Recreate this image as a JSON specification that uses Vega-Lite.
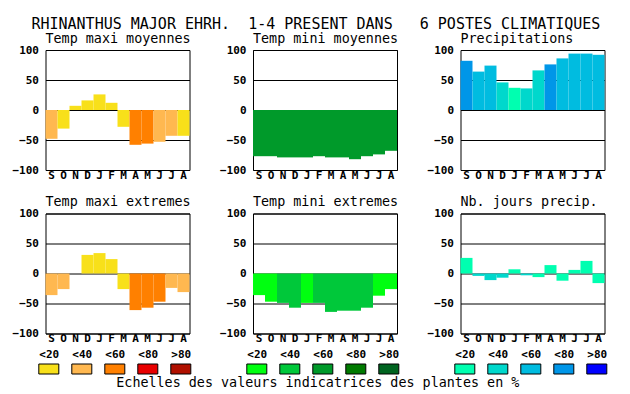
{
  "$schema": "https://vega.github.io/schema/vega-lite/v6.json",
  "padding": {"left": 11.5, "top": 17, "right": 2, "bottom": 2},
  "background": "white",
  "title": {"text": "RHINANTHUS MAJOR EHRH. \u00a01-4 PRESENT DANS \u00a0\u00a06 POSTES CLIMATIQUES", "font": "DejaVu Sans Mono", "fontSize": 15, "fontWeight": "normal", "color": "black", "anchor": "middle", "frame": "bounds", "offset": -1, "dx": 6.5},
  "datasets": {
    "bars": [
      {"p": "tmaxm", "i": 0, "v": -48, "c": "w2"}, {"p": "tmaxm", "i": 1, "v": -31, "c": "w1"}, {"p": "tmaxm", "i": 2, "v": 7, "c": "w1"}, {"p": "tmaxm", "i": 3, "v": 16, "c": "w1"}, {"p": "tmaxm", "i": 4, "v": 26, "c": "w1"}, {"p": "tmaxm", "i": 5, "v": 12, "c": "w1"}, {"p": "tmaxm", "i": 6, "v": -28, "c": "w1"}, {"p": "tmaxm", "i": 7, "v": -58, "c": "w3"}, {"p": "tmaxm", "i": 8, "v": -56, "c": "w3"}, {"p": "tmaxm", "i": 9, "v": -53, "c": "w2"}, {"p": "tmaxm", "i": 10, "v": -43, "c": "w2"}, {"p": "tmaxm", "i": 11, "v": -43, "c": "w1"},
      {"p": "tminm", "i": 0, "v": -77, "c": "g3"}, {"p": "tminm", "i": 1, "v": -77, "c": "g3"}, {"p": "tminm", "i": 2, "v": -79, "c": "g3"}, {"p": "tminm", "i": 3, "v": -79, "c": "g3"}, {"p": "tminm", "i": 4, "v": -79, "c": "g3"}, {"p": "tminm", "i": 5, "v": -77, "c": "g3"}, {"p": "tminm", "i": 6, "v": -79, "c": "g3"}, {"p": "tminm", "i": 7, "v": -79, "c": "g3"}, {"p": "tminm", "i": 8, "v": -82, "c": "g3"}, {"p": "tminm", "i": 9, "v": -77, "c": "g3"}, {"p": "tminm", "i": 10, "v": -74, "c": "g3"}, {"p": "tminm", "i": 11, "v": -68, "c": "g3"},
      {"p": "prec", "i": 0, "v": 82, "c": "b4"}, {"p": "prec", "i": 1, "v": 64, "c": "b3"}, {"p": "prec", "i": 2, "v": 74, "c": "b3"}, {"p": "prec", "i": 3, "v": 46, "c": "b2"}, {"p": "prec", "i": 4, "v": 37, "c": "b1"}, {"p": "prec", "i": 5, "v": 36, "c": "b2"}, {"p": "prec", "i": 6, "v": 66, "c": "b2"}, {"p": "prec", "i": 7, "v": 76, "c": "b4"}, {"p": "prec", "i": 8, "v": 86, "c": "b3"}, {"p": "prec", "i": 9, "v": 94, "c": "b3"}, {"p": "prec", "i": 10, "v": 94, "c": "b3"}, {"p": "prec", "i": 11, "v": 92, "c": "b3"},
      {"p": "tmaxe", "i": 0, "v": -36, "c": "w2"}, {"p": "tmaxe", "i": 1, "v": -26, "c": "w2"}, {"p": "tmaxe", "i": 2, "v": 0, "c": "w1"}, {"p": "tmaxe", "i": 3, "v": 31, "c": "w1"}, {"p": "tmaxe", "i": 4, "v": 34, "c": "w1"}, {"p": "tmaxe", "i": 5, "v": 24, "c": "w1"}, {"p": "tmaxe", "i": 6, "v": -26, "c": "w1"}, {"p": "tmaxe", "i": 7, "v": -61, "c": "w3"}, {"p": "tmaxe", "i": 8, "v": -57, "c": "w3"}, {"p": "tmaxe", "i": 9, "v": -47, "c": "w3"}, {"p": "tmaxe", "i": 10, "v": -24, "c": "w2"}, {"p": "tmaxe", "i": 11, "v": -31, "c": "w2"},
      {"p": "tmine", "i": 0, "v": -36, "c": "g1"}, {"p": "tmine", "i": 1, "v": -47, "c": "g1"}, {"p": "tmine", "i": 2, "v": -49, "c": "g2"}, {"p": "tmine", "i": 3, "v": -57, "c": "g2"}, {"p": "tmine", "i": 4, "v": -49, "c": "g1"}, {"p": "tmine", "i": 5, "v": -49, "c": "g2"}, {"p": "tmine", "i": 6, "v": -64, "c": "g2"}, {"p": "tmine", "i": 7, "v": -62, "c": "g2"}, {"p": "tmine", "i": 8, "v": -62, "c": "g2"}, {"p": "tmine", "i": 9, "v": -57, "c": "g2"}, {"p": "tmine", "i": 10, "v": -37, "c": "g1"}, {"p": "tmine", "i": 11, "v": -26, "c": "g1"},
      {"p": "njp", "i": 0, "v": 26, "c": "b1"}, {"p": "njp", "i": 1, "v": -4, "c": "b2"}, {"p": "njp", "i": 2, "v": -11, "c": "b2"}, {"p": "njp", "i": 3, "v": -7, "c": "b2"}, {"p": "njp", "i": 4, "v": 7, "c": "b1"}, {"p": "njp", "i": 5, "v": -3, "c": "b2"}, {"p": "njp", "i": 6, "v": -6, "c": "b1"}, {"p": "njp", "i": 7, "v": 14, "c": "b1"}, {"p": "njp", "i": 8, "v": -12, "c": "b1"}, {"p": "njp", "i": 9, "v": 6, "c": "b1"}, {"p": "njp", "i": 10, "v": 21, "c": "b1"}, {"p": "njp", "i": 11, "v": -16, "c": "b1"}
    ],
    "leg": [
      {"g": "w", "lab": "<20", "c": "w1"}, {"g": "w", "lab": "<40", "c": "w2"}, {"g": "w", "lab": "<60", "c": "w3"}, {"g": "w", "lab": "<80", "c": "w4"}, {"g": "w", "lab": ">80", "c": "w5"},
      {"g": "g", "lab": "<20", "c": "g1"}, {"g": "g", "lab": "<40", "c": "g2"}, {"g": "g", "lab": "<60", "c": "g3"}, {"g": "g", "lab": "<80", "c": "g4"}, {"g": "g", "lab": ">80", "c": "g5"},
      {"g": "b", "lab": "<20", "c": "b1"}, {"g": "b", "lab": "<40", "c": "b2"}, {"g": "b", "lab": "<60", "c": "b3"}, {"g": "b", "lab": "<80", "c": "b4"}, {"g": "b", "lab": ">80", "c": "b5"}
    ]
  },
  "vconcat": [
    {
      "spacing": 13.5,
      "vconcat": [
        {
          "spacing": 27.5,
          "hconcat": [
            {"title": "Temp maxi moyennes", "width": 144, "height": 120, "data": {"name": "bars"}, "transform": [{"filter": "datum.p == 'tmaxm'"}], "mark": "bar",
             "encoding": {"x": {"field": "i", "type": "ordinal", "axis": {"labelExpr": "['S','O','N','D','J','F','M','A','M','J','J','A'][datum.value]"}},
                          "y": {"field": "v", "type": "quantitative", "scale": {"domain": [-100, 100], "nice": false, "zero": false}, "axis": {"values": [-100, -50, 0, 50, 100]}},
                          "color": {"field": "c", "type": "nominal", "legend": null, "scale": {"domain": ["w1","w2","w3","w4","w5","g1","g2","g3","g4","g5","b1","b2","b3","b4","b5"], "range": ["#f8e01a", "#ffb850", "#ff8000", "#e80000", "#b01000", "#00ff10", "#00c83a", "#009a2a", "#007a00", "#006420", "#00ffb0", "#00d8cc", "#00bce0", "#0096e8", "#0000ff"]}}}},
            {"title": "Temp mini moyennes", "width": 144, "height": 120, "data": {"name": "bars"}, "transform": [{"filter": "datum.p == 'tminm'"}], "mark": "bar",
             "encoding": {"x": {"field": "i", "type": "ordinal", "axis": {"labelExpr": "['S','O','N','D','J','F','M','A','M','J','J','A'][datum.value]"}},
                          "y": {"field": "v", "type": "quantitative", "scale": {"domain": [-100, 100], "nice": false, "zero": false}, "axis": {"values": [-100, -50, 0, 50, 100]}},
                          "color": {"field": "c", "type": "nominal", "legend": null}}},
            {"title": "Precipitations", "width": 144, "height": 120, "data": {"name": "bars"}, "transform": [{"filter": "datum.p == 'prec'"}], "mark": "bar",
             "encoding": {"x": {"field": "i", "type": "ordinal", "axis": {"labelExpr": "['S','O','N','D','J','F','M','A','M','J','J','A'][datum.value]"}},
                          "y": {"field": "v", "type": "quantitative", "scale": {"domain": [-100, 100], "nice": false, "zero": false}, "axis": {"values": [-100, -50, 0, 50, 100]}},
                          "color": {"field": "c", "type": "nominal", "legend": null}}}
          ]
        },
        {
          "spacing": 27.5,
          "hconcat": [
            {"title": "Temp maxi extremes", "width": 144, "height": 120, "data": {"name": "bars"}, "transform": [{"filter": "datum.p == 'tmaxe'"}], "mark": "bar",
             "encoding": {"x": {"field": "i", "type": "ordinal", "axis": {"labelExpr": "['S','O','N','D','J','F','M','A','M','J','J','A'][datum.value]"}},
                          "y": {"field": "v", "type": "quantitative", "scale": {"domain": [-100, 100], "nice": false, "zero": false}, "axis": {"values": [-100, -50, 0, 50, 100]}},
                          "color": {"field": "c", "type": "nominal", "legend": null}}},
            {"title": "Temp mini extremes", "width": 144, "height": 120, "data": {"name": "bars"}, "transform": [{"filter": "datum.p == 'tmine'"}], "mark": "bar",
             "encoding": {"x": {"field": "i", "type": "ordinal", "axis": {"labelExpr": "['S','O','N','D','J','F','M','A','M','J','J','A'][datum.value]"}},
                          "y": {"field": "v", "type": "quantitative", "scale": {"domain": [-100, 100], "nice": false, "zero": false}, "axis": {"values": [-100, -50, 0, 50, 100]}},
                          "color": {"field": "c", "type": "nominal", "legend": null}}},
            {"title": "Nb. jours precip.", "width": 144, "height": 120, "data": {"name": "bars"}, "transform": [{"filter": "datum.p == 'njp'"}], "mark": "bar",
             "encoding": {"x": {"field": "i", "type": "ordinal", "axis": {"labelExpr": "['S','O','N','D','J','F','M','A','M','J','J','A'][datum.value]"}},
                          "y": {"field": "v", "type": "quantitative", "scale": {"domain": [-100, 100], "nice": false, "zero": false}, "axis": {"values": [-100, -50, 0, 50, 100]}},
                          "color": {"field": "c", "type": "nominal", "legend": null}}}
          ]
        }
      ]
    },
    {
      "spacing": 54,
      "title": {"text": "Echelles des valeurs indicatrices des plantes en %", "orient": "bottom", "fontSize": 13.4, "anchor": "middle", "frame": "bounds", "offset": 1, "dx": -5, "baseline": "top"},
      "hconcat": [
        {"width": 138.6, "height": 10, "view": {"stroke": null}, "data": {"name": "leg"}, "transform": [{"filter": "datum.g == 'w'"}],
         "mark": {"type": "bar", "width": 20, "stroke": "black", "strokeWidth": 1},
         "encoding": {"x": {"field": "lab", "type": "ordinal", "sort": ["<20", "<40", "<60", "<80", ">80"], "scale": {"type": "point", "padding": 0.1}, "axis": {"orient": "top", "title": null, "labelPadding": 5}},
                      "color": {"field": "c", "type": "nominal", "legend": null}}},
        {"width": 138.6, "height": 10, "view": {"stroke": null}, "data": {"name": "leg"}, "transform": [{"filter": "datum.g == 'g'"}],
         "mark": {"type": "bar", "width": 20, "stroke": "black", "strokeWidth": 1},
         "encoding": {"x": {"field": "lab", "type": "ordinal", "sort": ["<20", "<40", "<60", "<80", ">80"], "scale": {"type": "point", "padding": 0.1}, "axis": {"orient": "top", "title": null, "labelPadding": 5}},
                      "color": {"field": "c", "type": "nominal", "legend": null}}},
        {"width": 138.6, "height": 10, "view": {"stroke": null}, "data": {"name": "leg"}, "transform": [{"filter": "datum.g == 'b'"}],
         "mark": {"type": "bar", "width": 20, "stroke": "black", "strokeWidth": 1},
         "encoding": {"x": {"field": "lab", "type": "ordinal", "sort": ["<20", "<40", "<60", "<80", ">80"], "scale": {"type": "point", "padding": 0.1}, "axis": {"orient": "top", "title": null, "labelPadding": 5}},
                      "color": {"field": "c", "type": "nominal", "legend": null}}}
      ]
    }
  ],
  "spacing": 4,
  "resolve": {"scale": {"color": "shared"}},
  "config": {
    "font": "DejaVu Sans Mono",
    "view": {"stroke": "black", "strokeWidth": 1},
    "bar": {"strokeWidth": 0},
    "scale": {"bandPaddingInner": 0, "bandPaddingOuter": 0},
    "title": {"font": "DejaVu Sans Mono", "fontSize": 13.4, "fontWeight": "normal", "color": "black", "anchor": "start", "frame": "group", "offset": -1, "baseline": "alphabetic"},
    "axis": {"labelFont": "DejaVu Sans Mono", "labelFontSize": 11, "labelFontWeight": "bold", "labelColor": "black", "ticks": false, "domain": false, "title": null, "grid": false},
    "axisX": {"labelAngle": 0, "labelPadding": -1},
    "axisY": {"grid": true, "gridColor": "black", "gridOpacity": 1, "gridWidth": 1, "zindex": 1, "labelPadding": 7}
  }
}
